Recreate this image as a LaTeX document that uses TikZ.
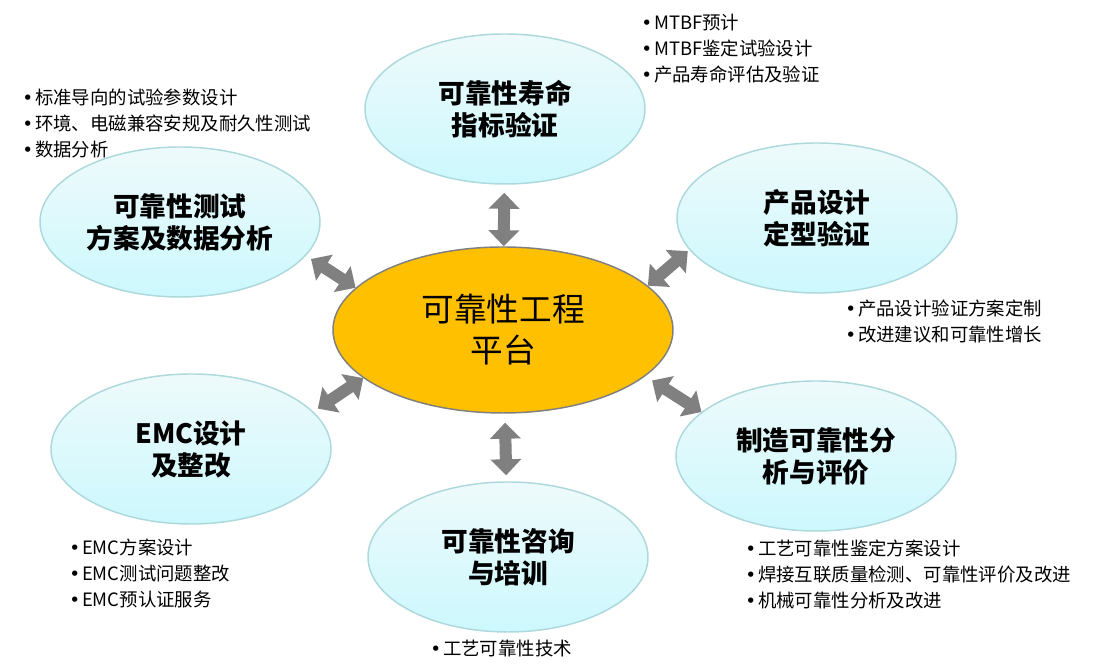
\documentclass[tikz,border=0pt]{standalone}
\usepackage{fontspec}
\setmainfont{Noto Sans CJK SC}
\newfontfamily\dotfont{DejaVu Sans}
\newcommand{\bul}{{\dotfont •}\kern1.5pt}
\usetikzlibrary{arrows.meta, shapes.geometric}
\definecolor{hubfill}{HTML}{FFC000}
\definecolor{hubline}{HTML}{7F7F7F}
\definecolor{topicline}{HTML}{ADD8DC}
\definecolor{topictop}{HTML}{EEFAFB}
\definecolor{topicbottom}{HTML}{CCF8FD}
\definecolor{linkgray}{HTML}{808080}
\tikzset{hub/.style = {ellipse, draw = hubline, line width = 1.1pt, fill = hubfill, minimum width = 255pt, minimum height = 124.5pt, inner sep = 0pt, align = center, font = \fontsize{24.5pt}{30.75pt}\selectfont}}
\tikzset{topic/.style = {ellipse, draw = topicline, line width = 1.1pt, top color = topictop, bottom color = topicbottom, minimum width = 210pt, minimum height = 112.5pt, inner sep = 0pt, align = center, font = \fontsize{20pt}{24pt}\selectfont\bfseries}}
\tikzset{notes/.style = {anchor = west, align = left, inner sep = 0pt, font = \fontsize{13.8pt}{19.5pt}\selectfont}}
\tikzset{link/.style = {draw = linkgray, line width = 9pt, arrows = {Triangle[width = 22.5pt, length = 12pt]-Triangle[width = 22.5pt, length = 12pt]}}}

\begin{document}
\begin{tikzpicture}[x = 0.75pt, y = 0.75pt]
        \useasboundingbox (0,0) rectangle (1101,666);
        \node[hub] (plat) at (503,336) {可靠性工程\\平台};
        \node[topic] (life) at (505,557) {可靠性寿命\\指标验证};
        \node[topic] (design) at (817,448) {产品设计\\定型验证};
        \node[topic] (mfg) at (816,210) {制造可靠性分\\析与评价};
        \node[topic] (consult) at (508,109) {可靠性咨询\\与培训};
        \node[topic] (emc) at (191,217) {EMC设计\\及整改};
        \node[topic] (test) at (180,444) {可靠性测试\\方案及数据分析};
        \draw[link, shorten <= 6pt] (life) -- (plat);
        \draw[link, shorten <= 6.75pt, shorten >= 4.5pt] (plat) -- (consult);
        \draw[link, shorten <= 4.5pt] (test.-15) -- (plat.164);
        \draw[link, shorten >= 1.5pt] (plat.17.6) -- (design.194.4);
        \draw[link, shorten >= 4pt] (plat.199.65) -- (emc.17);
        \draw[link, shorten <= 6pt] (plat.-18.4) -- (mfg.159.5);
        \node[notes] (testnotes) at (22,543) {\bul 标准导向的试验参数设计\\\bul 环境、电磁兼容安规及耐久性测试\\\bul 数据分析};
        \node[notes] (lifenotes) at (641,617) {\bul MTBF预计\\\bul MTBF鉴定试验设计\\\bul 产品寿命评估及验证};
        \node[notes] (designnotes) at (845,344) {\bul 产品设计验证方案定制\\\bul 改进建议和可靠性增长};
        \node[notes] (mfgnotes) at (745,92) {\bul 工艺可靠性鉴定方案设计\\\bul 焊接互联质量检测、可靠性评价及改进\\\bul 机械可靠性分析及改进};
        \node[notes] (emcnotes) at (69,93) {\bul EMC方案设计\\\bul EMC测试问题整改\\\bul EMC预认证服务};
        \node[notes] (consultnotes) at (430,17) {\bul 工艺可靠性技术};
    \end{tikzpicture}
\end{document}
